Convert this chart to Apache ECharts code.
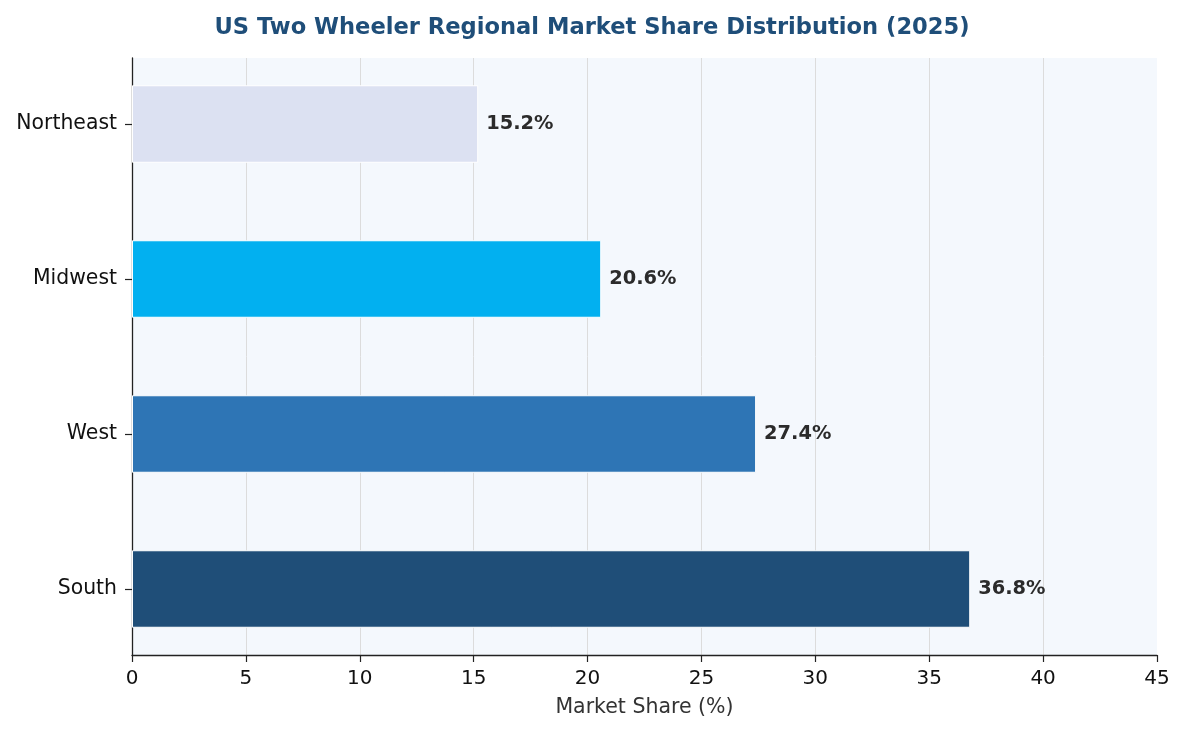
<!DOCTYPE html>
<html><head><meta charset="utf-8">
<script src="https://cdn.jsdelivr.net/npm/echarts@6/dist/echarts.min.js"></script>
<style>html,body{margin:0;padding:0;background:#fff}#c{width:1184px;height:733px}</style>
</head><body><div id="c"></div>
<script>
const regions = ['South', 'West', 'Midwest', 'Northeast'];
const shares = [36.8, 27.4, 20.6, 15.2];
const colors = ['#1f4e78', '#2e75b5', '#02b0f0', '#dce1f2'];
const xTicks = { min: 0, max: 45, interval: 5 };

const FF = "'DejaVu Sans'";
const chart = echarts.init(document.getElementById('c'));
chart.setOption({
  animation: false,
  backgroundColor: '#ffffff',
  title: {
    text: 'US Two Wheeler Regional Market Share Distribution (2025)',
    left: 'center', top: 12,
    textStyle: { fontFamily: FF, fontSize: 22.6, fontWeight: 'bold', color: '#1f4e79' }
  },
  grid: [
    { left: 132, right: 27, top: 58, bottom: 78, show: true, backgroundColor: '#f4f8fd', borderWidth: 0 },
    { left: 132, right: 27, top: 46.5, bottom: 66.5, show: false }
  ],
  xAxis: [{
    gridIndex: 0, type: 'value', min: xTicks.min, max: xTicks.max, interval: xTicks.interval,
    name: 'Market Share (%)', nameLocation: 'middle', nameGap: 42,
    nameTextStyle: { fontFamily: FF, fontSize: 20.5, color: '#333' },
    axisLine: { show: true, lineStyle: { color: '#222', width: 1.3 } },
    axisTick: { show: true, length: 7, lineStyle: { color: '#222', width: 1.2 } },
    axisLabel: { fontFamily: FF, fontSize: 20, color: '#111', margin: 14 },
    splitLine: { show: true, showMaxLine: false, lineStyle: { color: '#dcdcdc', width: 1 } }
  }, {
    gridIndex: 1, type: 'value', min: xTicks.min, max: xTicks.max, interval: xTicks.interval, show: false
  }],
  yAxis: [{
    gridIndex: 0, type: 'value', min: 0, max: 1,
    axisLine: { show: true, lineStyle: { color: '#222', width: 1.3 } },
    axisTick: { show: false }, axisLabel: { show: false }, splitLine: { show: false }
  }, {
    gridIndex: 1, type: 'category', data: regions,
    axisLine: { show: false },
    axisTick: { show: true, length: 7, alignWithLabel: true, lineStyle: { color: '#222', width: 1.2 } },
    axisLabel: { fontFamily: FF, fontSize: 20.4, color: '#111', margin: 15 },
    splitLine: { show: false }
  }],
  series: [{
    type: 'bar', xAxisIndex: 1, yAxisIndex: 1, barWidth: '50%',
    data: shares.map((v, i) => ({ value: v, itemStyle: { color: colors[i] } })),
    itemStyle: { borderColor: '#ffffff', borderWidth: 1 },
    label: {
      show: true, position: 'right', distance: 8,
      formatter: p => p.value.toFixed(1) + '%',
      fontFamily: FF, fontSize: 19.4, fontWeight: 'bold', color: '#2b2b2b'
    }
  }]
});
</script></body></html>
